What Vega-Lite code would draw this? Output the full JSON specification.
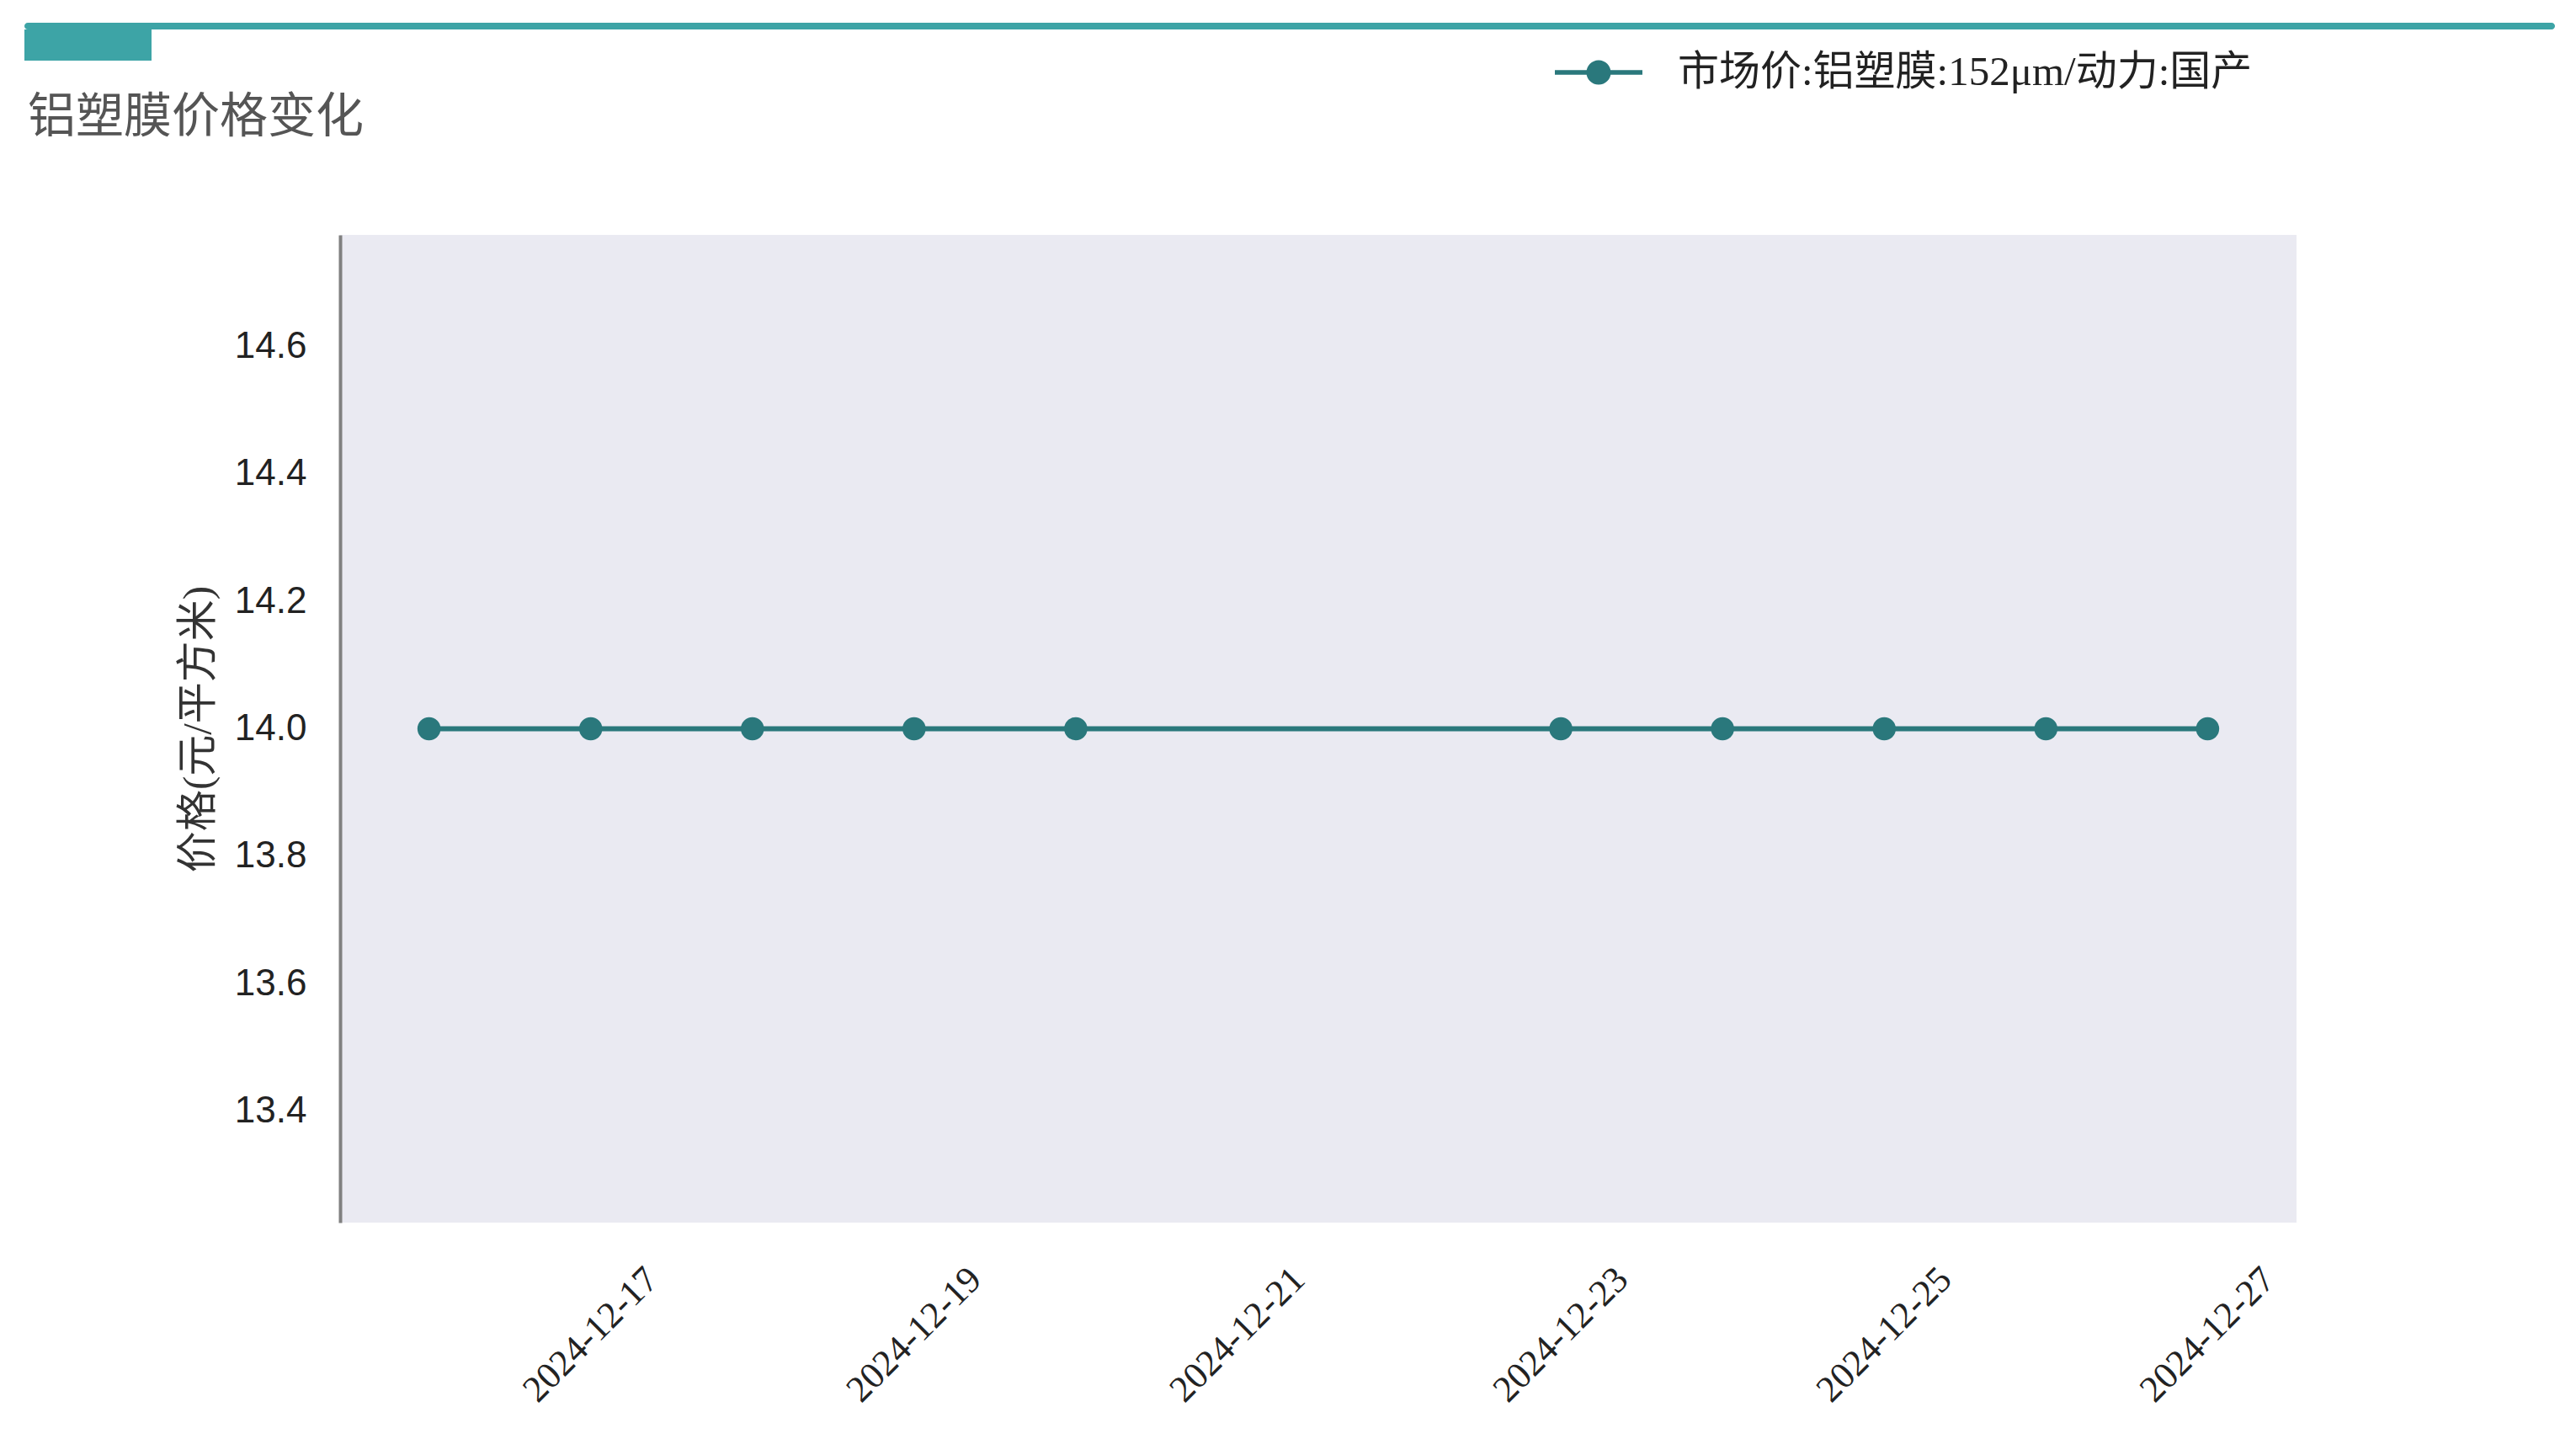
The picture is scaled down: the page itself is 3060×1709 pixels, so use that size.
{
  "$schema": "https://vega.github.io/schema/vega-lite/v6.json",
  "background": "white",
  "padding": {"left": 29, "top": 27, "right": 0, "bottom": 0},
  "spacing": 0,
  "bounds": "flush",
  "config": {"view": {"stroke": null}},
  "vconcat": [
    {
      "width": 3006, "height": 8,
      "view": {"fill": "#3DA4A6", "stroke": null, "cornerRadius": 4},
      "data": {"values": []},
      "mark": "point"
    },
    {
      "width": 151, "height": 37,
      "view": {"fill": "#3DA4A6", "stroke": null},
      "data": {"values": []},
      "mark": "point"
    },
    {
      "width": 3006, "height": 207,
      "view": {"stroke": null},
      "data": {"values": []},
      "mark": "point",
      "title": {
        "text": "铝塑膜价格变化",
        "anchor": "start", "frame": "group", "orient": "top",
        "offset": 0, "baseline": "alphabetic", "dy": 142, "dx": 4,
        "font": "Noto Sans CJK SC", "fontSize": 57, "fontWeight": "normal", "color": "#555555"
      }
    },
    {
      "spacing": 0,
      "bounds": "flush",
      "hconcat": [
        {
          "width": 375, "height": 1173,
          "view": {"stroke": null},
          "data": {"values": []},
          "mark": "point"
        },
        {
          "width": 2324, "height": 1173,
          "view": {"fill": "#EAEAF2", "stroke": null},
          "data": {"values": [
            {"date": "2024-12-16", "price": 14.0},
            {"date": "2024-12-17", "price": 14.0},
            {"date": "2024-12-18", "price": 14.0},
            {"date": "2024-12-19", "price": 14.0},
            {"date": "2024-12-20", "price": 14.0},
            {"date": "2024-12-23", "price": 14.0},
            {"date": "2024-12-24", "price": 14.0},
            {"date": "2024-12-25", "price": 14.0},
            {"date": "2024-12-26", "price": 14.0},
            {"date": "2024-12-27", "price": 14.0}
          ]},
          "encoding": {
            "x": {
              "field": "date", "type": "temporal",
              "scale": {"type": "utc", "domain": [
                {"year": 2024, "month": 12, "date": 15, "hours": 10, "minutes": 48, "utc": true},
                {"year": 2024, "month": 12, "date": 27, "hours": 13, "minutes": 12, "utc": true}
              ]},
              "axis": {
                "values": [
                  {"year": 2024, "month": 12, "date": 17, "utc": true},
                  {"year": 2024, "month": 12, "date": 19, "utc": true},
                  {"year": 2024, "month": 12, "date": 21, "utc": true},
                  {"year": 2024, "month": 12, "date": 23, "utc": true},
                  {"year": 2024, "month": 12, "date": 25, "utc": true},
                  {"year": 2024, "month": 12, "date": 27, "utc": true}
                ],
                "format": "%Y-%m-%d",
                "labelAngle": -45, "labelAlign": "center", "labelBaseline": "middle",
                "labelPadding": 133, "ticks": false, "domain": false, "grid": false,
                "title": null, "labelLimit": 0,
                "labelFont": "Liberation Serif", "labelFontSize": 44, "labelColor": "#222222",
                "labelOverlap": false, "labelBound": false, "labelFlush": false
              }
            },
            "y": {
              "field": "price", "type": "quantitative",
              "scale": {"domain": [13.225, 14.775], "zero": false, "nice": false},
              "axis": {
                "values": [13.4, 13.6, 13.8, 14.0, 14.2, 14.4, 14.6],
                "format": ".1f",
                "ticks": false, "grid": false,
                "domain": true, "domainColor": "#808080", "domainWidth": 4,
                "labelFont": "Liberation Sans", "labelFontSize": 44, "labelColor": "#222222",
                "labelPadding": 40,
                "title": "价格(元/平方米)",
                "titleFont": "Liberation Serif, Noto Sans CJK SC", "titleFontSize": 49,
                "titleFontWeight": "normal", "titleColor": "#333333", "titlePadding": 18
              }
            }
          },
          "layer": [
            {"mark": {"type": "line", "color": "#2A787C", "strokeWidth": 6}},
            {
              "mark": {"type": "point", "filled": true, "size": 760, "opacity": 1},
              "encoding": {
                "color": {
                  "datum": "市场价:铝塑膜:152μm/动力:国产", "type": "nominal",
                  "scale": {"range": ["#2A787C"]},
                  "legend": {
                    "orient": "none", "legendX": 1818, "legendY": 7,
                    "title": null, "padding": 0,
                    "labelFont": "Liberation Serif, Noto Sans CJK SC", "labelFontSize": 49,
                    "labelColor": "#222222", "labelOffset": 42, "labelLimit": 0,
                    "symbolType": "M -1 -0.055 L 1 -0.055 L 1 0.055 L -1 0.055 Z M 0.28 0 A 0.28 0.28 0 1 1 -0.28 0 A 0.28 0.28 0 1 1 0.28 0 Z",
                    "symbolSize": 10816, "symbolStrokeWidth": 0, "symbolFillColor": "#2A787C", "symbolOpacity": 1
                  }
                }
              }
            }
          ]
        }
      ]
    }
  ]
}
